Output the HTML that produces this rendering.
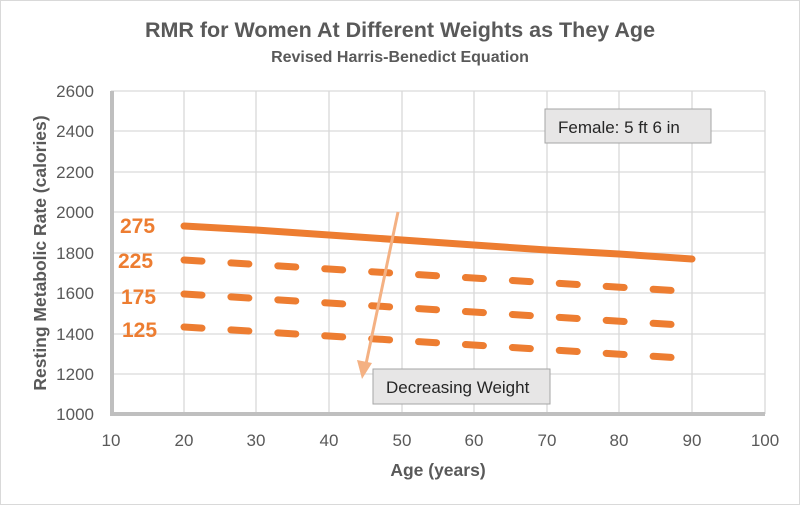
<!DOCTYPE html>
<html><head><style>
body{margin:0;background:#fff}
svg{display:block;font-family:"Liberation Sans",sans-serif}
</style></head><body>
<svg width="800" height="505" viewBox="0 0 800 505">
<rect x="0.5" y="0.5" width="799" height="504" fill="#fff" stroke="#d9d9d9"/>
<text x="400" y="37" text-anchor="middle" font-size="21.5" font-weight="bold" fill="#595959">RMR for Women At Different Weights as They Age</text>
<text x="400" y="62" text-anchor="middle" font-size="16" font-weight="bold" fill="#595959">Revised Harris-Benedict Equation</text>
<g stroke="#d9d9d9" stroke-width="1.3">
<line x1="111" y1="91" x2="765" y2="91"/><line x1="111" y1="131" x2="765" y2="131"/><line x1="111" y1="172" x2="765" y2="172"/><line x1="111" y1="212" x2="765" y2="212"/><line x1="111" y1="253" x2="765" y2="253"/><line x1="111" y1="293" x2="765" y2="293"/><line x1="111" y1="334" x2="765" y2="334"/><line x1="111" y1="374" x2="765" y2="374"/>
<line x1="184" y1="91" x2="184" y2="414"/><line x1="256" y1="91" x2="256" y2="414"/><line x1="329" y1="91" x2="329" y2="414"/><line x1="402" y1="91" x2="402" y2="414"/><line x1="474" y1="91" x2="474" y2="414"/><line x1="547" y1="91" x2="547" y2="414"/><line x1="619" y1="91" x2="619" y2="414"/><line x1="692" y1="91" x2="692" y2="414"/><line x1="765" y1="91" x2="765" y2="414"/>
</g>
<line x1="112" y1="91" x2="112" y2="416" stroke="#bfbfbf" stroke-width="4"/>
<line x1="110" y1="414" x2="765" y2="414" stroke="#bfbfbf" stroke-width="4"/>
<g font-size="17" fill="#595959" text-anchor="end">
<text x="94" y="97">2600</text><text x="94" y="137">2400</text><text x="94" y="178">2200</text><text x="94" y="218">2000</text><text x="94" y="259">1800</text><text x="94" y="299">1600</text><text x="94" y="340">1400</text><text x="94" y="380">1200</text><text x="94" y="420">1000</text>
</g>
<g font-size="17" fill="#595959" text-anchor="middle">
<text x="111" y="446">10</text><text x="184" y="446">20</text><text x="256" y="446">30</text><text x="329" y="446">40</text><text x="402" y="446">50</text><text x="474" y="446">60</text><text x="547" y="446">70</text><text x="619" y="446">80</text><text x="692" y="446">90</text><text x="765" y="446">100</text>
</g>
<text x="438" y="476" text-anchor="middle" font-size="17.5" font-weight="bold" fill="#595959">Age (years)</text>
<text transform="translate(46,253) rotate(-90)" text-anchor="middle" font-size="17.5" font-weight="bold" fill="#595959">Resting Metabolic Rate (calories)</text>
<g stroke="#ed7d31" stroke-width="7" fill="none" stroke-linecap="round">
<polyline points="184,226 256,230 329,235 402,240 474,245 547,250 619,254 692,259"/>
<g stroke-dasharray="18 29">
<line x1="184" y1="260" x2="681" y2="291"/>
<line x1="184" y1="294" x2="681" y2="325"/>
<line x1="184" y1="327" x2="681" y2="358"/>
</g>
</g>
<g font-size="21" font-weight="bold" fill="#ed7d31">
<text x="120" y="233">275</text><text x="118" y="268">225</text><text x="121" y="304">175</text><text x="122" y="337">125</text>
</g>
<line x1="398" y1="212" x2="366" y2="364" stroke="#f4b183" stroke-width="3"/>
<polygon points="362,379 357,360 372,363" fill="#f4b183"/>
<rect x="545" y="109" width="166" height="34" fill="#e7e6e6" stroke="#a6a6a6"/>
<text x="558" y="133" font-size="17" fill="#262626">Female: 5 ft 6 in</text>
<rect x="373" y="369" width="177" height="35" fill="#e7e6e6" stroke="#a6a6a6"/>
<text x="386" y="393" font-size="17" fill="#262626">Decreasing Weight</text>
</svg>
</body></html>
